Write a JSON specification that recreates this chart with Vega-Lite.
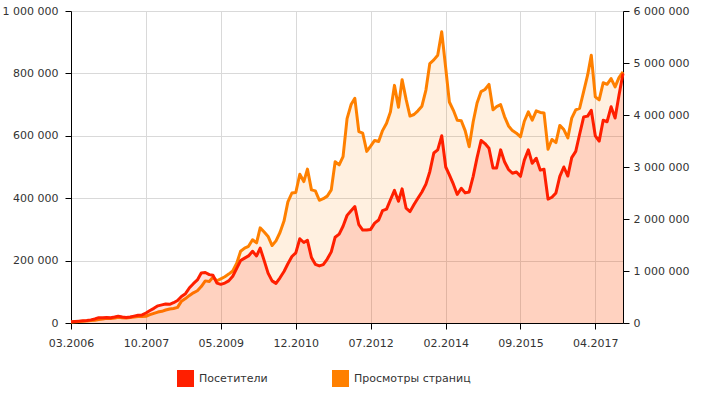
{
  "$schema": "https://vega.github.io/schema/vega-lite/v6.json",
  "width": 552,
  "height": 312,
  "autosize": {"type": "none"},
  "padding": {"left": 71, "top": 11, "right": 86, "bottom": 70},
  "background": "white",
  "config": {
    "view": {"stroke": null},
    "font": "DejaVu Sans",
    "axis": {"labelFont": "DejaVu Sans", "labelFontSize": 11, "labelColor": "#333333", "domainColor": "#000000", "tickColor": "#000000", "tickSize": 6, "gridColor": "#d9d9d9", "title": null}
  },
  "data": {"values": [
    {"month":"2006-03","visitors":4000,"pageviews":20000},
    {"month":"2006-04","visitors":5000,"pageviews":25000},
    {"month":"2006-05","visitors":6000,"pageviews":30000},
    {"month":"2006-06","visitors":7000,"pageviews":35000},
    {"month":"2006-07","visitors":8000,"pageviews":40000},
    {"month":"2006-08","visitors":10000,"pageviews":50000},
    {"month":"2006-09","visitors":13000,"pageviews":55000},
    {"month":"2006-10","visitors":17000,"pageviews":65000},
    {"month":"2006-11","visitors":17000,"pageviews":75000},
    {"month":"2006-12","visitors":18000,"pageviews":90000},
    {"month":"2007-01","visitors":17000,"pageviews":85000},
    {"month":"2007-02","visitors":19000,"pageviews":95000},
    {"month":"2007-03","visitors":22000,"pageviews":110000},
    {"month":"2007-04","visitors":19000,"pageviews":100000},
    {"month":"2007-05","visitors":18000,"pageviews":95000},
    {"month":"2007-06","visitors":19000,"pageviews":105000},
    {"month":"2007-07","visitors":22000,"pageviews":115000},
    {"month":"2007-08","visitors":25000,"pageviews":125000},
    {"month":"2007-09","visitors":26000,"pageviews":125000},
    {"month":"2007-10","visitors":32000,"pageviews":130000},
    {"month":"2007-11","visitors":40000,"pageviews":160000},
    {"month":"2007-12","visitors":47000,"pageviews":185000},
    {"month":"2008-01","visitors":55000,"pageviews":210000},
    {"month":"2008-02","visitors":58000,"pageviews":225000},
    {"month":"2008-03","visitors":61000,"pageviews":250000},
    {"month":"2008-04","visitors":60000,"pageviews":270000},
    {"month":"2008-05","visitors":65000,"pageviews":280000},
    {"month":"2008-06","visitors":72000,"pageviews":300000},
    {"month":"2008-07","visitors":85000,"pageviews":420000},
    {"month":"2008-08","visitors":94000,"pageviews":470000},
    {"month":"2008-09","visitors":113000,"pageviews":530000},
    {"month":"2008-10","visitors":126000,"pageviews":580000},
    {"month":"2008-11","visitors":138000,"pageviews":620000},
    {"month":"2008-12","visitors":160000,"pageviews":700000},
    {"month":"2009-01","visitors":162000,"pageviews":810000},
    {"month":"2009-02","visitors":155000,"pageviews":800000},
    {"month":"2009-03","visitors":153000,"pageviews":880000},
    {"month":"2009-04","visitors":128000,"pageviews":812000},
    {"month":"2009-05","visitors":124000,"pageviews":850000},
    {"month":"2009-06","visitors":128000,"pageviews":890000},
    {"month":"2009-07","visitors":135000,"pageviews":940000},
    {"month":"2009-08","visitors":150000,"pageviews":1000000},
    {"month":"2009-09","visitors":175000,"pageviews":1150000},
    {"month":"2009-10","visitors":200000,"pageviews":1380000},
    {"month":"2009-11","visitors":208000,"pageviews":1440000},
    {"month":"2009-12","visitors":215000,"pageviews":1475000},
    {"month":"2010-01","visitors":230000,"pageviews":1600000},
    {"month":"2010-02","visitors":215000,"pageviews":1540000},
    {"month":"2010-03","visitors":240000,"pageviews":1830000},
    {"month":"2010-04","visitors":200000,"pageviews":1750000},
    {"month":"2010-05","visitors":160000,"pageviews":1665000},
    {"month":"2010-06","visitors":135000,"pageviews":1490000},
    {"month":"2010-07","visitors":127000,"pageviews":1580000},
    {"month":"2010-08","visitors":145000,"pageviews":1740000},
    {"month":"2010-09","visitors":165000,"pageviews":1960000},
    {"month":"2010-10","visitors":190000,"pageviews":2330000},
    {"month":"2010-11","visitors":213000,"pageviews":2500000},
    {"month":"2010-12","visitors":225000,"pageviews":2510000},
    {"month":"2011-01","visitors":270000,"pageviews":2860000},
    {"month":"2011-02","visitors":258000,"pageviews":2720000},
    {"month":"2011-03","visitors":265000,"pageviews":2960000},
    {"month":"2011-04","visitors":210000,"pageviews":2560000},
    {"month":"2011-05","visitors":188000,"pageviews":2540000},
    {"month":"2011-06","visitors":183000,"pageviews":2360000},
    {"month":"2011-07","visitors":187000,"pageviews":2390000},
    {"month":"2011-08","visitors":205000,"pageviews":2440000},
    {"month":"2011-09","visitors":228000,"pageviews":2560000},
    {"month":"2011-10","visitors":275000,"pageviews":3100000},
    {"month":"2011-11","visitors":285000,"pageviews":3040000},
    {"month":"2011-12","visitors":310000,"pageviews":3200000},
    {"month":"2012-01","visitors":345000,"pageviews":3930000},
    {"month":"2012-02","visitors":360000,"pageviews":4200000},
    {"month":"2012-03","visitors":373000,"pageviews":4320000},
    {"month":"2012-04","visitors":315000,"pageviews":3680000},
    {"month":"2012-05","visitors":298000,"pageviews":3650000},
    {"month":"2012-06","visitors":298000,"pageviews":3300000},
    {"month":"2012-07","visitors":300000,"pageviews":3400000},
    {"month":"2012-08","visitors":320000,"pageviews":3510000},
    {"month":"2012-09","visitors":330000,"pageviews":3490000},
    {"month":"2012-10","visitors":360000,"pageviews":3700000},
    {"month":"2012-11","visitors":365000,"pageviews":3840000},
    {"month":"2012-12","visitors":395000,"pageviews":4060000},
    {"month":"2013-01","visitors":425000,"pageviews":4570000},
    {"month":"2013-02","visitors":390000,"pageviews":4150000},
    {"month":"2013-03","visitors":430000,"pageviews":4680000},
    {"month":"2013-04","visitors":368000,"pageviews":4300000},
    {"month":"2013-05","visitors":357000,"pageviews":3980000},
    {"month":"2013-06","visitors":380000,"pageviews":4010000},
    {"month":"2013-07","visitors":400000,"pageviews":4080000},
    {"month":"2013-08","visitors":420000,"pageviews":4170000},
    {"month":"2013-09","visitors":445000,"pageviews":4480000},
    {"month":"2013-10","visitors":485000,"pageviews":4990000},
    {"month":"2013-11","visitors":545000,"pageviews":5060000},
    {"month":"2013-12","visitors":555000,"pageviews":5150000},
    {"month":"2014-01","visitors":600000,"pageviews":5600000},
    {"month":"2014-02","visitors":500000,"pageviews":4900000},
    {"month":"2014-03","visitors":475000,"pageviews":4250000},
    {"month":"2014-04","visitors":445000,"pageviews":4090000},
    {"month":"2014-05","visitors":412000,"pageviews":3900000},
    {"month":"2014-06","visitors":432000,"pageviews":3890000},
    {"month":"2014-07","visitors":417000,"pageviews":3700000},
    {"month":"2014-08","visitors":420000,"pageviews":3390000},
    {"month":"2014-09","visitors":470000,"pageviews":3870000},
    {"month":"2014-10","visitors":530000,"pageviews":4230000},
    {"month":"2014-11","visitors":585000,"pageviews":4450000},
    {"month":"2014-12","visitors":575000,"pageviews":4490000},
    {"month":"2015-01","visitors":560000,"pageviews":4590000},
    {"month":"2015-02","visitors":497000,"pageviews":4100000},
    {"month":"2015-03","visitors":497000,"pageviews":4160000},
    {"month":"2015-04","visitors":555000,"pageviews":4200000},
    {"month":"2015-05","visitors":517000,"pageviews":3970000},
    {"month":"2015-06","visitors":492000,"pageviews":3790000},
    {"month":"2015-07","visitors":480000,"pageviews":3700000},
    {"month":"2015-08","visitors":484000,"pageviews":3650000},
    {"month":"2015-09","visitors":470000,"pageviews":3580000},
    {"month":"2015-10","visitors":522000,"pageviews":3880000},
    {"month":"2015-11","visitors":555000,"pageviews":4060000},
    {"month":"2015-12","visitors":512000,"pageviews":3900000},
    {"month":"2016-01","visitors":528000,"pageviews":4080000},
    {"month":"2016-02","visitors":490000,"pageviews":4050000},
    {"month":"2016-03","visitors":493000,"pageviews":4040000},
    {"month":"2016-04","visitors":397000,"pageviews":3340000},
    {"month":"2016-05","visitors":403000,"pageviews":3530000},
    {"month":"2016-06","visitors":417000,"pageviews":3470000},
    {"month":"2016-07","visitors":470000,"pageviews":3800000},
    {"month":"2016-08","visitors":500000,"pageviews":3720000},
    {"month":"2016-09","visitors":471000,"pageviews":3560000},
    {"month":"2016-10","visitors":530000,"pageviews":3940000},
    {"month":"2016-11","visitors":550000,"pageviews":4100000},
    {"month":"2016-12","visitors":605000,"pageviews":4130000},
    {"month":"2017-01","visitors":660000,"pageviews":4450000},
    {"month":"2017-02","visitors":663000,"pageviews":4770000},
    {"month":"2017-03","visitors":682000,"pageviews":5150000},
    {"month":"2017-04","visitors":600000,"pageviews":4350000},
    {"month":"2017-05","visitors":583000,"pageviews":4290000},
    {"month":"2017-06","visitors":650000,"pageviews":4620000},
    {"month":"2017-07","visitors":645000,"pageviews":4590000},
    {"month":"2017-08","visitors":693000,"pageviews":4700000},
    {"month":"2017-09","visitors":657000,"pageviews":4540000},
    {"month":"2017-10","visitors":730000,"pageviews":4720000},
    {"month":"2017-11","visitors":800000,"pageviews":4830000}
  ]},
  "encoding": {
    "x": {
      "field": "month",
      "type": "temporal",
      "scale": {"type": "utc", "domain": [{"year": 2006, "month": 3, "date": 1, "utc": true}, {"year": 2017, "month": 11, "date": 1, "utc": true}], "nice": false},
      "axis": {
        "values": [
          {"year": 2006, "month": 3, "date": 1, "utc": true},
          {"year": 2007, "month": 10, "date": 1, "utc": true},
          {"year": 2009, "month": 5, "date": 1, "utc": true},
          {"year": 2010, "month": 12, "date": 1, "utc": true},
          {"year": 2012, "month": 7, "date": 1, "utc": true},
          {"year": 2014, "month": 2, "date": 1, "utc": true},
          {"year": 2015, "month": 9, "date": 1, "utc": true},
          {"year": 2017, "month": 4, "date": 1, "utc": true}
        ],
        "labelExpr": "utcFormat(datum.value, '%m.%Y')",
        "grid": true,
        "labelPadding": 8,
        "labelFlush": false,
        "labelOverlap": false
      }
    }
  },
  "layer": [
    {
      "encoding": {
        "y": {
          "field": "pageviews",
          "type": "quantitative",
          "scale": {"domain": [0, 6000000], "nice": false},
          "axis": {"orient": "right", "values": [0, 1000000, 2000000, 3000000, 4000000, 5000000, 6000000], "grid": false, "labelPadding": 4, "labelExpr": "replace(format(datum.value, ',d'), regexp(',', 'g'), ' ')"}
        }
      },
      "layer": [
        {
          "mark": {"type": "area", "fillOpacity": 0.12},
          "encoding": {
            "fill": {
              "datum": "Просмотры страниц",
              "type": "nominal",
              "scale": {"domain": ["Посетители", "Просмотры страниц"], "range": ["#ff1f00", "#ff8000"]},
              "legend": {
                "title": null,
                "orient": "none",
                "legendX": 106,
                "legendY": 359,
                "direction": "horizontal",
                "symbolType": "square",
                "symbolSize": 289,
                "symbolOpacity": 1,
                "symbolStrokeWidth": 0,
                "labelFont": "DejaVu Sans",
                "labelFontSize": 11,
                "labelColor": "#333333",
                "labelOffset": 5,
                "columnPadding": 64,
                "padding": 0,
                "labelLimit": 300
              }
            }
          }
        },
        {
          "mark": {"type": "line", "stroke": "#ff8000", "strokeWidth": 3, "strokeJoin": "round"},
          "encoding": {}
        }
      ]
    },
    {
      "encoding": {
        "y": {
          "field": "visitors",
          "type": "quantitative",
          "scale": {"domain": [0, 1000000], "nice": false},
          "axis": {"orient": "left", "values": [0, 200000, 400000, 600000, 800000, 1000000], "grid": true, "labelPadding": 7, "labelExpr": "replace(format(datum.value, ',d'), regexp(',', 'g'), ' ')"}
        }
      },
      "layer": [
        {
          "mark": {"type": "area", "fillOpacity": 0.14},
          "encoding": {"fill": {"datum": "Посетители", "type": "nominal"}}
        },
        {
          "mark": {"type": "line", "stroke": "#ff1f00", "strokeWidth": 3, "strokeJoin": "round"},
          "encoding": {}
        }
      ]
    }
  ],
  "resolve": {"scale": {"y": "independent"}}
}
